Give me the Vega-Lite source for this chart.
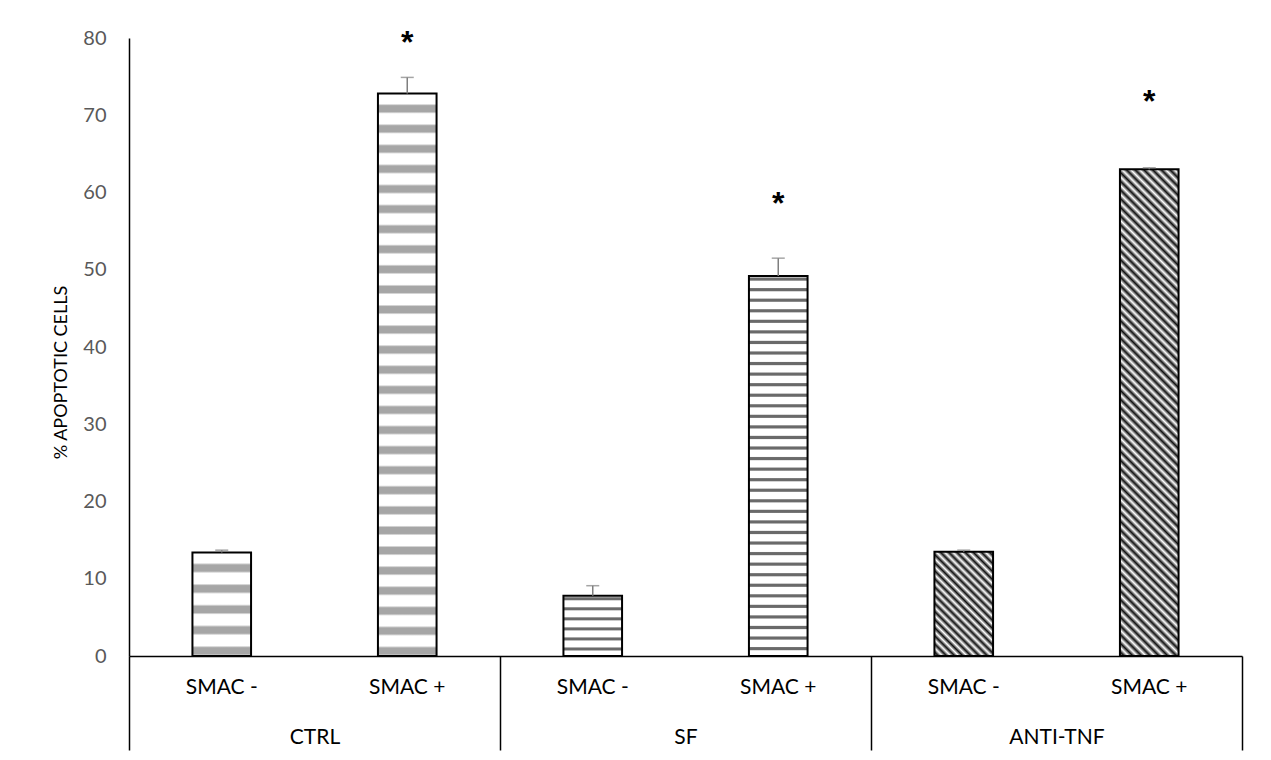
{
  "$schema": "https://vega.github.io/schema/vega-lite/v6.json",
  "width": 1113,
  "height": 618,
  "autosize": "none",
  "padding": {"left": 129, "top": 38, "right": 29, "bottom": 104},
  "background": "white",
  "config": {"view": {"stroke": null}, "font": "Lato"},
  "data": {
    "values": [
      {"group": "CTRL", "smac": "SMAC -", "key": "CTRL|SMAC -", "value": 13.4, "hi": 13.7, "star": null},
      {"group": "CTRL", "smac": "SMAC +", "key": "CTRL|SMAC +", "value": 72.8, "hi": 74.9, "star": 80.0},
      {"group": "SF", "smac": "SMAC -", "key": "SF|SMAC -", "value": 7.8, "hi": 9.1, "star": null},
      {"group": "SF", "smac": "SMAC +", "key": "SF|SMAC +", "value": 49.2, "hi": 51.5, "star": 59.1},
      {"group": "ANTI-TNF", "smac": "SMAC -", "key": "ANTI-TNF|SMAC -", "value": 13.5, "hi": 13.7, "star": null},
      {"group": "ANTI-TNF", "smac": "SMAC +", "key": "ANTI-TNF|SMAC +", "value": 63.0, "hi": 63.2, "star": 72.3}
    ]
  },
  "layer": [
    {
      "encoding": {
        "x": {
          "field": "key", "type": "nominal", "sort": null,
          "scale": {"paddingInner": 0.684, "paddingOuter": 0.342},
          "axis": {"orient": "bottom", "title": null, "labelExpr": "split(datum.value,'|')[1]", "labelAngle": 0, "domainColor": "black", "domainWidth": 1.5, "ticks": false, "tickSize": 0, "labelPadding": 31, "labelBaseline": "middle", "labelFontSize": 21, "labelColor": "black", "labelFont": "Lato"}
        },
        "y": {
          "field": "value", "type": "quantitative",
          "scale": {"domain": [0, 80], "nice": false},
          "axis": {"values": [0, 10, 20, 30, 40, 50, 60, 70, 80], "domainColor": "black", "domainWidth": 1.5, "ticks": false, "tickSize": 0, "grid": false, "labelColor": "#595959", "labelFontSize": 20, "labelFont": "Lato", "labelPadding": 23, "title": "% APOPTOTIC CELLS", "titleFont": "Lato", "titleFontSize": 18, "titleFontWeight": "normal", "titleColor": "black", "titlePadding": 12, "titleY": 334}
        }
      },
      "layer": [
        {
          "transform": [{"filter": "datum.key === 'CTRL|SMAC -'"}],
          "mark": {"type": "bar", "stroke": "black", "strokeWidth": 2, "fill": {"gradient": "linear", "x1": 0, "y1": 1, "x2": 0, "y2": 0, "stops": [
            {"offset": 0, "color": "#ffffff"}, {"offset": 0.02, "color": "#a6a6a6"}, {"offset": 0.08, "color": "#a6a6a6"}, {"offset": 0.1, "color": "#ffffff"},
            {"offset": 0.2, "color": "#ffffff"}, {"offset": 0.22, "color": "#a6a6a6"}, {"offset": 0.28, "color": "#a6a6a6"}, {"offset": 0.3, "color": "#ffffff"},
            {"offset": 0.4, "color": "#ffffff"}, {"offset": 0.42, "color": "#a6a6a6"}, {"offset": 0.48, "color": "#a6a6a6"}, {"offset": 0.5, "color": "#ffffff"},
            {"offset": 0.6, "color": "#ffffff"}, {"offset": 0.62, "color": "#a6a6a6"}, {"offset": 0.68, "color": "#a6a6a6"}, {"offset": 0.7, "color": "#ffffff"},
            {"offset": 0.8, "color": "#ffffff"}, {"offset": 0.82, "color": "#a6a6a6"}, {"offset": 0.88, "color": "#a6a6a6"}, {"offset": 0.9, "color": "#ffffff"}
          ]}}
        },
        {
          "transform": [{"filter": "datum.key === 'CTRL|SMAC +'"}],
          "mark": {"type": "bar", "stroke": "black", "strokeWidth": 2, "fill": {"gradient": "linear", "x1": 0, "y1": 1, "x2": 0, "y2": 0, "stops": [
            {"offset": 0, "color": "#ffffff"}, {"offset": 0.0036, "color": "#a6a6a6"}, {"offset": 0.0143, "color": "#a6a6a6"}, {"offset": 0.0179, "color": "#ffffff"},
            {"offset": 0.0357, "color": "#ffffff"}, {"offset": 0.0393, "color": "#a6a6a6"}, {"offset": 0.05, "color": "#a6a6a6"}, {"offset": 0.0536, "color": "#ffffff"},
            {"offset": 0.0714, "color": "#ffffff"}, {"offset": 0.075, "color": "#a6a6a6"}, {"offset": 0.0857, "color": "#a6a6a6"}, {"offset": 0.0893, "color": "#ffffff"},
            {"offset": 0.1071, "color": "#ffffff"}, {"offset": 0.1107, "color": "#a6a6a6"}, {"offset": 0.1214, "color": "#a6a6a6"}, {"offset": 0.125, "color": "#ffffff"},
            {"offset": 0.1429, "color": "#ffffff"}, {"offset": 0.1464, "color": "#a6a6a6"}, {"offset": 0.1571, "color": "#a6a6a6"}, {"offset": 0.1607, "color": "#ffffff"},
            {"offset": 0.1786, "color": "#ffffff"}, {"offset": 0.1821, "color": "#a6a6a6"}, {"offset": 0.1929, "color": "#a6a6a6"}, {"offset": 0.1964, "color": "#ffffff"},
            {"offset": 0.2143, "color": "#ffffff"}, {"offset": 0.2179, "color": "#a6a6a6"}, {"offset": 0.2286, "color": "#a6a6a6"}, {"offset": 0.2321, "color": "#ffffff"},
            {"offset": 0.25, "color": "#ffffff"}, {"offset": 0.2536, "color": "#a6a6a6"}, {"offset": 0.2643, "color": "#a6a6a6"}, {"offset": 0.2679, "color": "#ffffff"},
            {"offset": 0.2857, "color": "#ffffff"}, {"offset": 0.2893, "color": "#a6a6a6"}, {"offset": 0.3, "color": "#a6a6a6"}, {"offset": 0.3036, "color": "#ffffff"},
            {"offset": 0.3214, "color": "#ffffff"}, {"offset": 0.325, "color": "#a6a6a6"}, {"offset": 0.3357, "color": "#a6a6a6"}, {"offset": 0.3393, "color": "#ffffff"},
            {"offset": 0.3571, "color": "#ffffff"}, {"offset": 0.3607, "color": "#a6a6a6"}, {"offset": 0.3714, "color": "#a6a6a6"}, {"offset": 0.375, "color": "#ffffff"},
            {"offset": 0.3929, "color": "#ffffff"}, {"offset": 0.3964, "color": "#a6a6a6"}, {"offset": 0.4071, "color": "#a6a6a6"}, {"offset": 0.4107, "color": "#ffffff"},
            {"offset": 0.4286, "color": "#ffffff"}, {"offset": 0.4321, "color": "#a6a6a6"}, {"offset": 0.4429, "color": "#a6a6a6"}, {"offset": 0.4464, "color": "#ffffff"},
            {"offset": 0.4643, "color": "#ffffff"}, {"offset": 0.4679, "color": "#a6a6a6"}, {"offset": 0.4786, "color": "#a6a6a6"}, {"offset": 0.4821, "color": "#ffffff"},
            {"offset": 0.5, "color": "#ffffff"}, {"offset": 0.5036, "color": "#a6a6a6"}, {"offset": 0.5143, "color": "#a6a6a6"}, {"offset": 0.5179, "color": "#ffffff"},
            {"offset": 0.5357, "color": "#ffffff"}, {"offset": 0.5393, "color": "#a6a6a6"}, {"offset": 0.55, "color": "#a6a6a6"}, {"offset": 0.5536, "color": "#ffffff"},
            {"offset": 0.5714, "color": "#ffffff"}, {"offset": 0.575, "color": "#a6a6a6"}, {"offset": 0.5857, "color": "#a6a6a6"}, {"offset": 0.5893, "color": "#ffffff"},
            {"offset": 0.6071, "color": "#ffffff"}, {"offset": 0.6107, "color": "#a6a6a6"}, {"offset": 0.6214, "color": "#a6a6a6"}, {"offset": 0.625, "color": "#ffffff"},
            {"offset": 0.6429, "color": "#ffffff"}, {"offset": 0.6464, "color": "#a6a6a6"}, {"offset": 0.6571, "color": "#a6a6a6"}, {"offset": 0.6607, "color": "#ffffff"},
            {"offset": 0.6786, "color": "#ffffff"}, {"offset": 0.6821, "color": "#a6a6a6"}, {"offset": 0.6929, "color": "#a6a6a6"}, {"offset": 0.6964, "color": "#ffffff"},
            {"offset": 0.7143, "color": "#ffffff"}, {"offset": 0.7179, "color": "#a6a6a6"}, {"offset": 0.7286, "color": "#a6a6a6"}, {"offset": 0.7321, "color": "#ffffff"},
            {"offset": 0.75, "color": "#ffffff"}, {"offset": 0.7536, "color": "#a6a6a6"}, {"offset": 0.7643, "color": "#a6a6a6"}, {"offset": 0.7679, "color": "#ffffff"},
            {"offset": 0.7857, "color": "#ffffff"}, {"offset": 0.7893, "color": "#a6a6a6"}, {"offset": 0.8, "color": "#a6a6a6"}, {"offset": 0.8036, "color": "#ffffff"},
            {"offset": 0.8214, "color": "#ffffff"}, {"offset": 0.825, "color": "#a6a6a6"}, {"offset": 0.8357, "color": "#a6a6a6"}, {"offset": 0.8393, "color": "#ffffff"},
            {"offset": 0.8571, "color": "#ffffff"}, {"offset": 0.8607, "color": "#a6a6a6"}, {"offset": 0.8714, "color": "#a6a6a6"}, {"offset": 0.875, "color": "#ffffff"},
            {"offset": 0.8929, "color": "#ffffff"}, {"offset": 0.8964, "color": "#a6a6a6"}, {"offset": 0.9071, "color": "#a6a6a6"}, {"offset": 0.9107, "color": "#ffffff"},
            {"offset": 0.9286, "color": "#ffffff"}, {"offset": 0.9321, "color": "#a6a6a6"}, {"offset": 0.9429, "color": "#a6a6a6"}, {"offset": 0.9464, "color": "#ffffff"},
            {"offset": 0.9643, "color": "#ffffff"}, {"offset": 0.9679, "color": "#a6a6a6"}, {"offset": 0.9786, "color": "#a6a6a6"}, {"offset": 0.9821, "color": "#ffffff"}
          ]}}
        },
        {
          "transform": [{"filter": "datum.key === 'SF|SMAC -'"}],
          "mark": {"type": "bar", "stroke": "black", "strokeWidth": 2, "fill": {"gradient": "linear", "x1": 0, "y1": 1, "x2": 0, "y2": 0, "stops": [
            {"offset": 0.0833, "color": "#ffffff"}, {"offset": 0.1, "color": "#6a6a6a"}, {"offset": 0.1333, "color": "#6a6a6a"}, {"offset": 0.15, "color": "#ffffff"},
            {"offset": 0.25, "color": "#ffffff"}, {"offset": 0.2667, "color": "#6a6a6a"}, {"offset": 0.3, "color": "#6a6a6a"}, {"offset": 0.3167, "color": "#ffffff"},
            {"offset": 0.4167, "color": "#ffffff"}, {"offset": 0.4333, "color": "#6a6a6a"}, {"offset": 0.4667, "color": "#6a6a6a"}, {"offset": 0.4833, "color": "#ffffff"},
            {"offset": 0.5833, "color": "#ffffff"}, {"offset": 0.6, "color": "#6a6a6a"}, {"offset": 0.6333, "color": "#6a6a6a"}, {"offset": 0.65, "color": "#ffffff"},
            {"offset": 0.75, "color": "#ffffff"}, {"offset": 0.7667, "color": "#6a6a6a"}, {"offset": 0.8, "color": "#6a6a6a"}, {"offset": 0.8167, "color": "#ffffff"},
            {"offset": 0.9167, "color": "#ffffff"}, {"offset": 0.9333, "color": "#6a6a6a"}, {"offset": 0.9667, "color": "#6a6a6a"}, {"offset": 0.9833, "color": "#ffffff"}
          ]}}
        },
        {
          "transform": [{"filter": "datum.key === 'SF|SMAC +'"}],
          "mark": {"type": "bar", "stroke": "black", "strokeWidth": 2, "fill": {"gradient": "linear", "x1": 0, "y1": 1, "x2": 0, "y2": 0, "stops": [
            {"offset": 0.0139, "color": "#ffffff"}, {"offset": 0.0167, "color": "#6a6a6a"}, {"offset": 0.0222, "color": "#6a6a6a"}, {"offset": 0.025, "color": "#ffffff"},
            {"offset": 0.0417, "color": "#ffffff"}, {"offset": 0.0444, "color": "#6a6a6a"}, {"offset": 0.05, "color": "#6a6a6a"}, {"offset": 0.0528, "color": "#ffffff"},
            {"offset": 0.0694, "color": "#ffffff"}, {"offset": 0.0722, "color": "#6a6a6a"}, {"offset": 0.0778, "color": "#6a6a6a"}, {"offset": 0.0806, "color": "#ffffff"},
            {"offset": 0.0972, "color": "#ffffff"}, {"offset": 0.1, "color": "#6a6a6a"}, {"offset": 0.1056, "color": "#6a6a6a"}, {"offset": 0.1083, "color": "#ffffff"},
            {"offset": 0.125, "color": "#ffffff"}, {"offset": 0.1278, "color": "#6a6a6a"}, {"offset": 0.1333, "color": "#6a6a6a"}, {"offset": 0.1361, "color": "#ffffff"},
            {"offset": 0.1528, "color": "#ffffff"}, {"offset": 0.1556, "color": "#6a6a6a"}, {"offset": 0.1611, "color": "#6a6a6a"}, {"offset": 0.1639, "color": "#ffffff"},
            {"offset": 0.1806, "color": "#ffffff"}, {"offset": 0.1833, "color": "#6a6a6a"}, {"offset": 0.1889, "color": "#6a6a6a"}, {"offset": 0.1917, "color": "#ffffff"},
            {"offset": 0.2083, "color": "#ffffff"}, {"offset": 0.2111, "color": "#6a6a6a"}, {"offset": 0.2167, "color": "#6a6a6a"}, {"offset": 0.2194, "color": "#ffffff"},
            {"offset": 0.2361, "color": "#ffffff"}, {"offset": 0.2389, "color": "#6a6a6a"}, {"offset": 0.2444, "color": "#6a6a6a"}, {"offset": 0.2472, "color": "#ffffff"},
            {"offset": 0.2639, "color": "#ffffff"}, {"offset": 0.2667, "color": "#6a6a6a"}, {"offset": 0.2722, "color": "#6a6a6a"}, {"offset": 0.275, "color": "#ffffff"},
            {"offset": 0.2917, "color": "#ffffff"}, {"offset": 0.2944, "color": "#6a6a6a"}, {"offset": 0.3, "color": "#6a6a6a"}, {"offset": 0.3028, "color": "#ffffff"},
            {"offset": 0.3194, "color": "#ffffff"}, {"offset": 0.3222, "color": "#6a6a6a"}, {"offset": 0.3278, "color": "#6a6a6a"}, {"offset": 0.3306, "color": "#ffffff"},
            {"offset": 0.3472, "color": "#ffffff"}, {"offset": 0.35, "color": "#6a6a6a"}, {"offset": 0.3556, "color": "#6a6a6a"}, {"offset": 0.3583, "color": "#ffffff"},
            {"offset": 0.375, "color": "#ffffff"}, {"offset": 0.3778, "color": "#6a6a6a"}, {"offset": 0.3833, "color": "#6a6a6a"}, {"offset": 0.3861, "color": "#ffffff"},
            {"offset": 0.4028, "color": "#ffffff"}, {"offset": 0.4056, "color": "#6a6a6a"}, {"offset": 0.4111, "color": "#6a6a6a"}, {"offset": 0.4139, "color": "#ffffff"},
            {"offset": 0.4306, "color": "#ffffff"}, {"offset": 0.4333, "color": "#6a6a6a"}, {"offset": 0.4389, "color": "#6a6a6a"}, {"offset": 0.4417, "color": "#ffffff"},
            {"offset": 0.4583, "color": "#ffffff"}, {"offset": 0.4611, "color": "#6a6a6a"}, {"offset": 0.4667, "color": "#6a6a6a"}, {"offset": 0.4694, "color": "#ffffff"},
            {"offset": 0.4861, "color": "#ffffff"}, {"offset": 0.4889, "color": "#6a6a6a"}, {"offset": 0.4944, "color": "#6a6a6a"}, {"offset": 0.4972, "color": "#ffffff"},
            {"offset": 0.5139, "color": "#ffffff"}, {"offset": 0.5167, "color": "#6a6a6a"}, {"offset": 0.5222, "color": "#6a6a6a"}, {"offset": 0.525, "color": "#ffffff"},
            {"offset": 0.5417, "color": "#ffffff"}, {"offset": 0.5444, "color": "#6a6a6a"}, {"offset": 0.55, "color": "#6a6a6a"}, {"offset": 0.5528, "color": "#ffffff"},
            {"offset": 0.5694, "color": "#ffffff"}, {"offset": 0.5722, "color": "#6a6a6a"}, {"offset": 0.5778, "color": "#6a6a6a"}, {"offset": 0.5806, "color": "#ffffff"},
            {"offset": 0.5972, "color": "#ffffff"}, {"offset": 0.6, "color": "#6a6a6a"}, {"offset": 0.6056, "color": "#6a6a6a"}, {"offset": 0.6083, "color": "#ffffff"},
            {"offset": 0.625, "color": "#ffffff"}, {"offset": 0.6278, "color": "#6a6a6a"}, {"offset": 0.6333, "color": "#6a6a6a"}, {"offset": 0.6361, "color": "#ffffff"},
            {"offset": 0.6528, "color": "#ffffff"}, {"offset": 0.6556, "color": "#6a6a6a"}, {"offset": 0.6611, "color": "#6a6a6a"}, {"offset": 0.6639, "color": "#ffffff"},
            {"offset": 0.6806, "color": "#ffffff"}, {"offset": 0.6833, "color": "#6a6a6a"}, {"offset": 0.6889, "color": "#6a6a6a"}, {"offset": 0.6917, "color": "#ffffff"},
            {"offset": 0.7083, "color": "#ffffff"}, {"offset": 0.7111, "color": "#6a6a6a"}, {"offset": 0.7167, "color": "#6a6a6a"}, {"offset": 0.7194, "color": "#ffffff"},
            {"offset": 0.7361, "color": "#ffffff"}, {"offset": 0.7389, "color": "#6a6a6a"}, {"offset": 0.7444, "color": "#6a6a6a"}, {"offset": 0.7472, "color": "#ffffff"},
            {"offset": 0.7639, "color": "#ffffff"}, {"offset": 0.7667, "color": "#6a6a6a"}, {"offset": 0.7722, "color": "#6a6a6a"}, {"offset": 0.775, "color": "#ffffff"},
            {"offset": 0.7917, "color": "#ffffff"}, {"offset": 0.7944, "color": "#6a6a6a"}, {"offset": 0.8, "color": "#6a6a6a"}, {"offset": 0.8028, "color": "#ffffff"},
            {"offset": 0.8194, "color": "#ffffff"}, {"offset": 0.8222, "color": "#6a6a6a"}, {"offset": 0.8278, "color": "#6a6a6a"}, {"offset": 0.8306, "color": "#ffffff"},
            {"offset": 0.8472, "color": "#ffffff"}, {"offset": 0.85, "color": "#6a6a6a"}, {"offset": 0.8556, "color": "#6a6a6a"}, {"offset": 0.8583, "color": "#ffffff"},
            {"offset": 0.875, "color": "#ffffff"}, {"offset": 0.8778, "color": "#6a6a6a"}, {"offset": 0.8833, "color": "#6a6a6a"}, {"offset": 0.8861, "color": "#ffffff"},
            {"offset": 0.9028, "color": "#ffffff"}, {"offset": 0.9056, "color": "#6a6a6a"}, {"offset": 0.9111, "color": "#6a6a6a"}, {"offset": 0.9139, "color": "#ffffff"},
            {"offset": 0.9306, "color": "#ffffff"}, {"offset": 0.9333, "color": "#6a6a6a"}, {"offset": 0.9389, "color": "#6a6a6a"}, {"offset": 0.9417, "color": "#ffffff"},
            {"offset": 0.9583, "color": "#ffffff"}, {"offset": 0.9611, "color": "#6a6a6a"}, {"offset": 0.9667, "color": "#6a6a6a"}, {"offset": 0.9694, "color": "#ffffff"},
            {"offset": 0.9861, "color": "#ffffff"}, {"offset": 0.9889, "color": "#6a6a6a"}, {"offset": 0.9944, "color": "#6a6a6a"}, {"offset": 0.9972, "color": "#ffffff"}
          ]}}
        },
        {
          "transform": [{"filter": "datum.key === 'ANTI-TNF|SMAC -'"}],
          "mark": {"type": "bar", "stroke": "black", "strokeWidth": 2, "fill": {"gradient": "linear", "x1": 0, "y1": 1, "x2": 0.665, "y2": -0.188, "stops": [
            {"offset": 0, "color": "#ffffff"}, {"offset": 0.025, "color": "#111111"}, {"offset": 0.05, "color": "#ffffff"}, {"offset": 0.075, "color": "#111111"},
            {"offset": 0.1, "color": "#ffffff"}, {"offset": 0.125, "color": "#111111"}, {"offset": 0.15, "color": "#ffffff"}, {"offset": 0.175, "color": "#111111"},
            {"offset": 0.2, "color": "#ffffff"}, {"offset": 0.225, "color": "#111111"}, {"offset": 0.25, "color": "#ffffff"}, {"offset": 0.275, "color": "#111111"},
            {"offset": 0.3, "color": "#ffffff"}, {"offset": 0.325, "color": "#111111"}, {"offset": 0.35, "color": "#ffffff"}, {"offset": 0.375, "color": "#111111"},
            {"offset": 0.4, "color": "#ffffff"}, {"offset": 0.425, "color": "#111111"}, {"offset": 0.45, "color": "#ffffff"}, {"offset": 0.475, "color": "#111111"},
            {"offset": 0.5, "color": "#ffffff"}, {"offset": 0.525, "color": "#111111"}, {"offset": 0.55, "color": "#ffffff"}, {"offset": 0.575, "color": "#111111"},
            {"offset": 0.6, "color": "#ffffff"}, {"offset": 0.625, "color": "#111111"}, {"offset": 0.65, "color": "#ffffff"}, {"offset": 0.675, "color": "#111111"},
            {"offset": 0.7, "color": "#ffffff"}, {"offset": 0.725, "color": "#111111"}, {"offset": 0.75, "color": "#ffffff"}, {"offset": 0.775, "color": "#111111"},
            {"offset": 0.8, "color": "#ffffff"}, {"offset": 0.825, "color": "#111111"}, {"offset": 0.85, "color": "#ffffff"}, {"offset": 0.875, "color": "#111111"},
            {"offset": 0.9, "color": "#ffffff"}, {"offset": 0.925, "color": "#111111"}, {"offset": 0.95, "color": "#ffffff"}, {"offset": 0.975, "color": "#111111"},
            {"offset": 1, "color": "#ffffff"}
          ]}}
        },
        {
          "transform": [{"filter": "datum.key === 'ANTI-TNF|SMAC +'"}],
          "mark": {"type": "bar", "stroke": "black", "strokeWidth": 2, "fill": {"gradient": "linear", "x1": 0, "y1": 1, "x2": 0.133, "y2": -0.104, "stops": [
            {"offset": 0, "color": "#ffffff"}, {"offset": 0.008, "color": "#111111"}, {"offset": 0.016, "color": "#ffffff"}, {"offset": 0.024, "color": "#111111"},
            {"offset": 0.032, "color": "#ffffff"}, {"offset": 0.04, "color": "#111111"}, {"offset": 0.048, "color": "#ffffff"}, {"offset": 0.056, "color": "#111111"},
            {"offset": 0.064, "color": "#ffffff"}, {"offset": 0.072, "color": "#111111"}, {"offset": 0.08, "color": "#ffffff"}, {"offset": 0.088, "color": "#111111"},
            {"offset": 0.096, "color": "#ffffff"}, {"offset": 0.104, "color": "#111111"}, {"offset": 0.112, "color": "#ffffff"}, {"offset": 0.12, "color": "#111111"},
            {"offset": 0.128, "color": "#ffffff"}, {"offset": 0.136, "color": "#111111"}, {"offset": 0.144, "color": "#ffffff"}, {"offset": 0.152, "color": "#111111"},
            {"offset": 0.16, "color": "#ffffff"}, {"offset": 0.168, "color": "#111111"}, {"offset": 0.176, "color": "#ffffff"}, {"offset": 0.184, "color": "#111111"},
            {"offset": 0.192, "color": "#ffffff"}, {"offset": 0.2, "color": "#111111"}, {"offset": 0.208, "color": "#ffffff"}, {"offset": 0.216, "color": "#111111"},
            {"offset": 0.224, "color": "#ffffff"}, {"offset": 0.232, "color": "#111111"}, {"offset": 0.24, "color": "#ffffff"}, {"offset": 0.248, "color": "#111111"},
            {"offset": 0.256, "color": "#ffffff"}, {"offset": 0.264, "color": "#111111"}, {"offset": 0.272, "color": "#ffffff"}, {"offset": 0.28, "color": "#111111"},
            {"offset": 0.288, "color": "#ffffff"}, {"offset": 0.296, "color": "#111111"}, {"offset": 0.304, "color": "#ffffff"}, {"offset": 0.312, "color": "#111111"},
            {"offset": 0.32, "color": "#ffffff"}, {"offset": 0.328, "color": "#111111"}, {"offset": 0.336, "color": "#ffffff"}, {"offset": 0.344, "color": "#111111"},
            {"offset": 0.352, "color": "#ffffff"}, {"offset": 0.36, "color": "#111111"}, {"offset": 0.368, "color": "#ffffff"}, {"offset": 0.376, "color": "#111111"},
            {"offset": 0.384, "color": "#ffffff"}, {"offset": 0.392, "color": "#111111"}, {"offset": 0.4, "color": "#ffffff"}, {"offset": 0.408, "color": "#111111"},
            {"offset": 0.416, "color": "#ffffff"}, {"offset": 0.424, "color": "#111111"}, {"offset": 0.432, "color": "#ffffff"}, {"offset": 0.44, "color": "#111111"},
            {"offset": 0.448, "color": "#ffffff"}, {"offset": 0.456, "color": "#111111"}, {"offset": 0.464, "color": "#ffffff"}, {"offset": 0.472, "color": "#111111"},
            {"offset": 0.48, "color": "#ffffff"}, {"offset": 0.488, "color": "#111111"}, {"offset": 0.496, "color": "#ffffff"}, {"offset": 0.504, "color": "#111111"},
            {"offset": 0.512, "color": "#ffffff"}, {"offset": 0.52, "color": "#111111"}, {"offset": 0.528, "color": "#ffffff"}, {"offset": 0.536, "color": "#111111"},
            {"offset": 0.544, "color": "#ffffff"}, {"offset": 0.552, "color": "#111111"}, {"offset": 0.56, "color": "#ffffff"}, {"offset": 0.568, "color": "#111111"},
            {"offset": 0.576, "color": "#ffffff"}, {"offset": 0.584, "color": "#111111"}, {"offset": 0.592, "color": "#ffffff"}, {"offset": 0.6, "color": "#111111"},
            {"offset": 0.608, "color": "#ffffff"}, {"offset": 0.616, "color": "#111111"}, {"offset": 0.624, "color": "#ffffff"}, {"offset": 0.632, "color": "#111111"},
            {"offset": 0.64, "color": "#ffffff"}, {"offset": 0.648, "color": "#111111"}, {"offset": 0.656, "color": "#ffffff"}, {"offset": 0.664, "color": "#111111"},
            {"offset": 0.672, "color": "#ffffff"}, {"offset": 0.68, "color": "#111111"}, {"offset": 0.688, "color": "#ffffff"}, {"offset": 0.696, "color": "#111111"},
            {"offset": 0.704, "color": "#ffffff"}, {"offset": 0.712, "color": "#111111"}, {"offset": 0.72, "color": "#ffffff"}, {"offset": 0.728, "color": "#111111"},
            {"offset": 0.736, "color": "#ffffff"}, {"offset": 0.744, "color": "#111111"}, {"offset": 0.752, "color": "#ffffff"}, {"offset": 0.76, "color": "#111111"},
            {"offset": 0.768, "color": "#ffffff"}, {"offset": 0.776, "color": "#111111"}, {"offset": 0.784, "color": "#ffffff"}, {"offset": 0.792, "color": "#111111"},
            {"offset": 0.8, "color": "#ffffff"}, {"offset": 0.808, "color": "#111111"}, {"offset": 0.816, "color": "#ffffff"}, {"offset": 0.824, "color": "#111111"},
            {"offset": 0.832, "color": "#ffffff"}, {"offset": 0.84, "color": "#111111"}, {"offset": 0.848, "color": "#ffffff"}, {"offset": 0.856, "color": "#111111"},
            {"offset": 0.864, "color": "#ffffff"}, {"offset": 0.872, "color": "#111111"}, {"offset": 0.88, "color": "#ffffff"}, {"offset": 0.888, "color": "#111111"},
            {"offset": 0.896, "color": "#ffffff"}, {"offset": 0.904, "color": "#111111"}, {"offset": 0.912, "color": "#ffffff"}, {"offset": 0.92, "color": "#111111"},
            {"offset": 0.928, "color": "#ffffff"}, {"offset": 0.936, "color": "#111111"}, {"offset": 0.944, "color": "#ffffff"}, {"offset": 0.952, "color": "#111111"},
            {"offset": 0.96, "color": "#ffffff"}, {"offset": 0.968, "color": "#111111"}, {"offset": 0.976, "color": "#ffffff"}, {"offset": 0.984, "color": "#111111"},
            {"offset": 0.992, "color": "#ffffff"}, {"offset": 1, "color": "#111111"}
          ]}}
        },
        {
          "mark": {"type": "rule", "color": "#7f7f7f", "strokeWidth": 1.5},
          "encoding": {"y2": {"field": "hi"}}
        },
        {
          "mark": {"type": "tick", "color": "#7f7f7f", "thickness": 1.5, "size": 13},
          "encoding": {"y": {"field": "hi", "type": "quantitative"}}
        },
        {
          "transform": [{"filter": "datum.star != null"}],
          "mark": {"type": "text", "text": "*", "font": "Liberation Sans", "fontWeight": "bold", "fontSize": 32, "baseline": "alphabetic", "dy": 15, "color": "black"},
          "encoding": {"y": {"field": "star", "type": "quantitative"}}
        }
      ]
    },
    {
      "mark": {"type": "text", "text": ""},
      "encoding": {
        "x": {
          "field": "group", "type": "nominal",
          "scale": {"domain": ["CTRL", "SF", "ANTI-TNF"], "paddingInner": 0, "paddingOuter": 0},
          "axis": {"orient": "bottom", "title": null, "domain": false, "ticks": true, "tickBand": "extent", "tickSize": 94, "tickColor": "black", "tickWidth": 1.5, "labelPadding": -13, "labelBaseline": "middle", "labelFontSize": 21, "labelColor": "black", "labelFont": "Lato", "labelAngle": 0}
        }
      }
    }
  ],
  "resolve": {"scale": {"x": "independent"}, "axis": {"x": "independent"}}
}
